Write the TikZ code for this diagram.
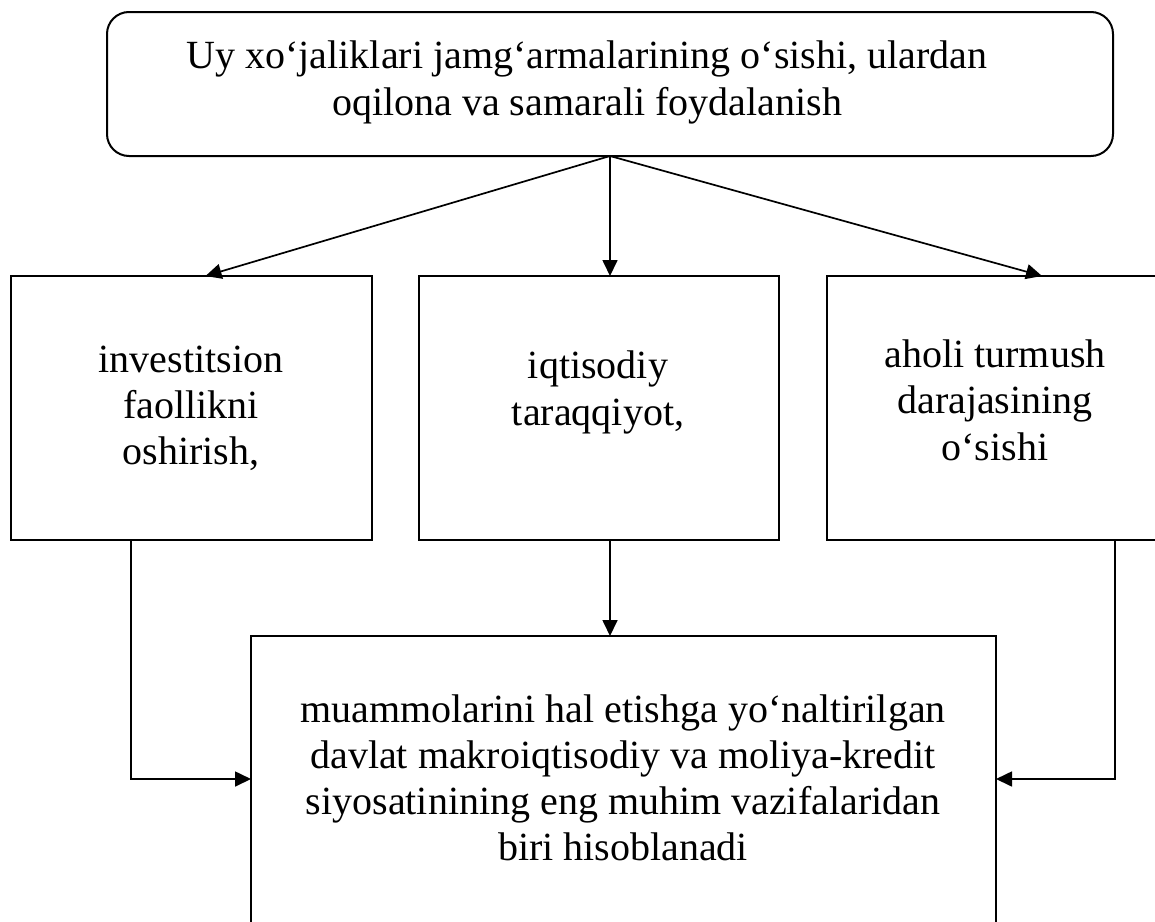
\documentclass[tikz,border=0pt]{standalone}
\usepackage{fontspec}
\setmainfont{Liberation Serif}
\usetikzlibrary{arrows.meta,calc}
\begin{document}
\begin{tikzpicture}[x=1pt,y=-1pt,
  box/.style={draw,line width=2pt,inner sep=0pt,outer sep=0pt,anchor=north west},
  txt/.style={anchor=base,inner sep=0pt,font=\fontsize{40}{46}\selectfont},
  arr/.style={line width=1.7pt,-{Triangle[length=16pt,width=15pt]}}]
\useasboundingbox (0,0) rectangle (1155,921);
\clip (0,0) rectangle (1155,921);
% boxes
\node[box,rounded corners=22pt,minimum width=1006pt,minimum height=144pt] (top) at (107,12) {};
\node[box,minimum width=361pt,minimum height=264pt] (L) at (11,276) {};
\node[box,minimum width=360pt,minimum height=264pt] (M) at (419,276) {};
\node[box,minimum width=360pt,minimum height=264pt] (R) at (827,276) {};
\node[box,minimum width=745pt,minimum height=330pt] (B) at (251,636) {};
% texts
\node[txt] (t1) at (587,68) {Uy xo‘jaliklari jamg‘armalarining o‘sishi, ulardan};
\node[txt] (t2) at (587,115) {oqilona va samarali foydalanish};
\node[txt] (l1) at (191,372) {investitsion};
\node[txt] (l2) at (191,418) {faollikni};
\node[txt] (l3) at (191,464) {oshirish,};
\node[txt] (m1) at (598,378) {iqtisodiy};
\node[txt] (m2) at (598,425) {taraqqiyot,};
\node[txt] (r1) at (995,367) {aholi turmush};
\node[txt] (r2) at (995,413) {darajasining};
\node[txt] (r3) at (995,460) {o‘sishi};
\node[txt] (b1) at (623,722) {muammolarini hal etishga yo‘naltirilgan};
\node[txt] (b2) at (623,768) {davlat makroiqtisodiy va moliya-kredit};
\node[txt] (b3) at (623,814) {siyosatinining eng muhim vazifalaridan};
\node[txt] (b4) at (623,860) {biri hisoblanadi};
% connectors
\coordinate (lstart) at ($(L.south west)+(120,0)$);
\coordinate (rstart) at ($(R.south west)+(288,0)$);
\coordinate (hmid) at (0,779);
\draw[arr] (top.south) -- ($(L.north)+(14,0)$);
\draw[arr] (top.south) -- (top.south |- M.north);
\draw[arr] (top.south) -- ($(R.north)+(35,0)$);
\draw[arr] (top.south |- M.south) -- (top.south |- B.north);
\draw[arr] (lstart) |- (B.west |- hmid);
\draw[arr] (rstart) |- (B.east |- hmid);
\end{tikzpicture}
\end{document}
